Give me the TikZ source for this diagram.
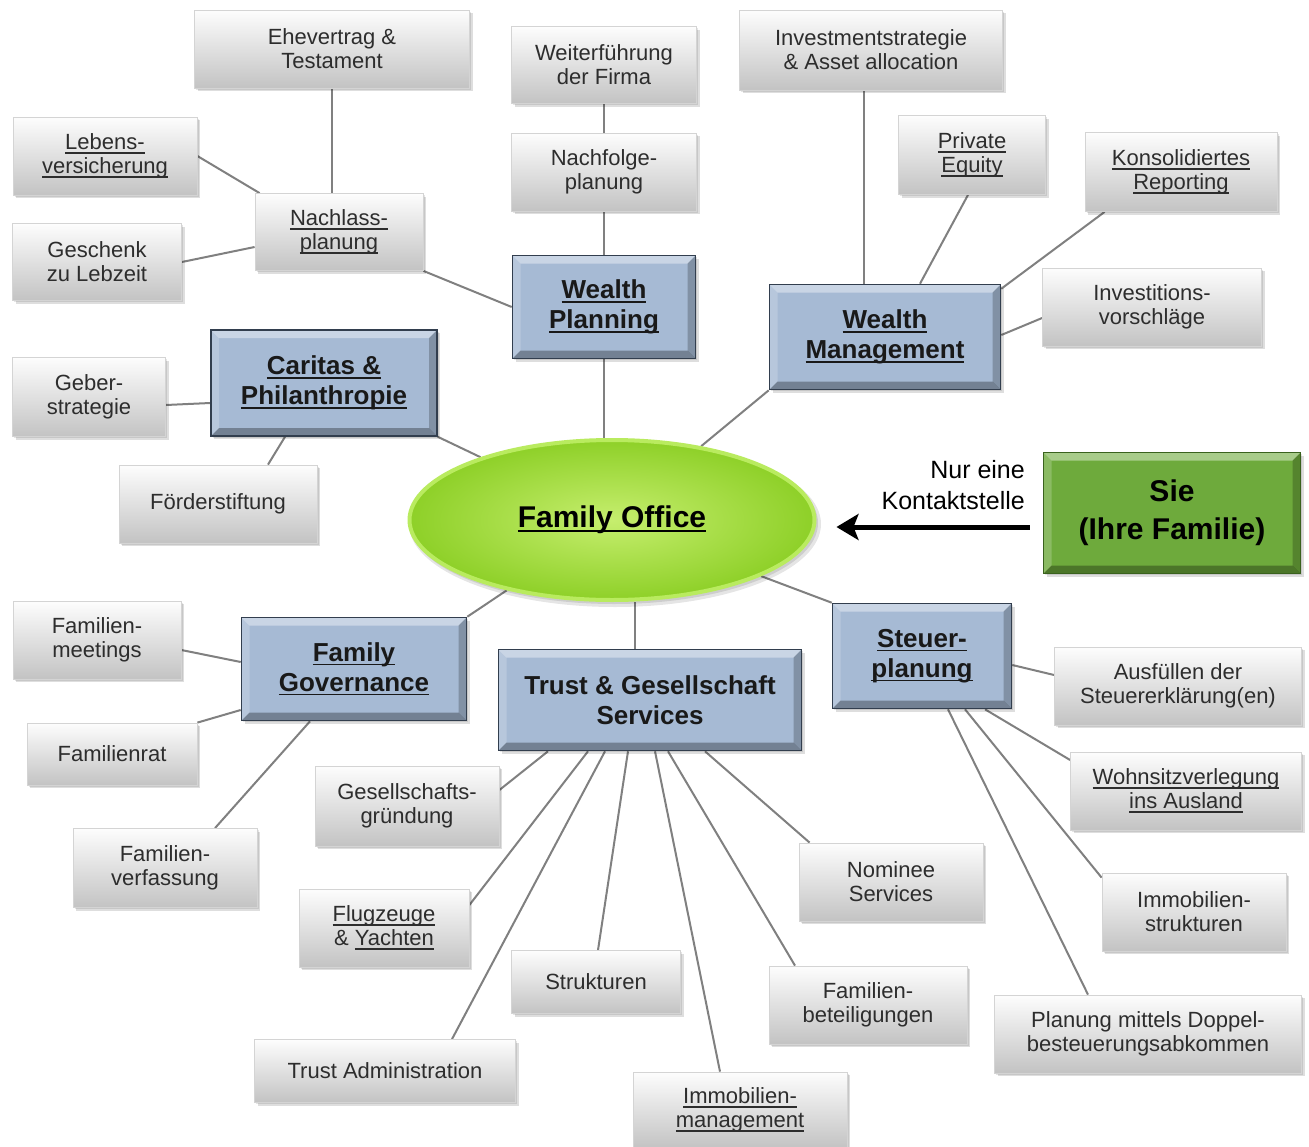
\documentclass[tikz,border=0pt]{standalone}
\usepackage{fontspec}
\setmainfont{Liberation Sans}
\usetikzlibrary{shapes.geometric,shadows,calc,arrows.meta}
\pgfdeclarelayer{paper}
\pgfdeclarelayer{background}
\pgfsetlayers{paper,background,main}
\definecolor{txtgray}{RGB}{45,45,45}
\definecolor{boxtop}{RGB}{253,253,253}
\definecolor{boxbot}{RGB}{195,195,195}
\definecolor{boxline}{RGB}{212,212,212}
\definecolor{bluefill}{RGB}{166,186,212}
\definecolor{blueline}{RGB}{50,62,78}
\definecolor{greenfill}{RGB}{110,170,60}
\definecolor{greenline}{RGB}{58,98,30}
\definecolor{linkgray}{RGB}{128,128,128}
\definecolor{foinner}{RGB}{198,238,110}
\definecolor{foouter}{RGB}{142,208,40}
\definecolor{forim}{RGB}{185,235,95}
\newcommand\uln[1]{\leavevmode\setbox0\hbox{#1}\rlap{\rule[-4pt]{\wd0}{1.6pt}}\box0}
\newcommand\bevelpic{%
  \fill[white,opacity=.4] (path picture bounding box.north west) -- (path picture bounding box.north east)
     -- ([xshift=-8pt,yshift=-8pt]path picture bounding box.north east) -- ([xshift=8pt,yshift=-8pt]path picture bounding box.north west) -- cycle;
  \fill[white,opacity=.2] (path picture bounding box.north west) -- ([xshift=8pt,yshift=-8pt]path picture bounding box.north west)
     -- ([xshift=8pt,yshift=8pt]path picture bounding box.south west) -- (path picture bounding box.south west) -- cycle;
  \fill[black,opacity=.3] (path picture bounding box.south west) -- ([xshift=8pt,yshift=8pt]path picture bounding box.south west)
     -- ([xshift=-8pt,yshift=8pt]path picture bounding box.south east) -- (path picture bounding box.south east) -- cycle;
  \fill[black,opacity=.22] (path picture bounding box.north east) -- ([xshift=-8pt,yshift=-8pt]path picture bounding box.north east)
     -- ([xshift=-8pt,yshift=8pt]path picture bounding box.south east) -- (path picture bounding box.south east) -- cycle;}
\tikzset{
  softshadow/.style={general shadow={fill=black, opacity=.13, shadow xshift=3pt, shadow yshift=-3pt},
                     general shadow={fill=black, opacity=.10, shadow xshift=1.5pt, shadow yshift=-1.5pt}},
  graybox/.style={rectangle, draw=boxline, line width=0.8pt, top color=boxtop, bottom color=boxbot,
    text=txtgray, align=center, inner sep=2pt, font=\fontsize{22}{24}\selectfont, softshadow},
  bluebox/.style={rectangle, draw=blueline, line width=1.6pt, fill=bluefill, path picture={\bevelpic},
    text=black!90, align=center, inner sep=2pt, font=\bfseries\fontsize{26}{30}\selectfont, softshadow},
  greenbox/.style={rectangle, draw=greenline, line width=1.6pt, fill=greenfill, path picture={\bevelpic},
    text=black, align=center, inner sep=2pt, font=\bfseries\fontsize{30}{38}\selectfont, softshadow},
  link/.style={draw=linkgray, line width=2pt},
}
\begin{document}
\begin{tikzpicture}[x=1pt,y=-1pt]
\begin{pgfonlayer}{paper}
\fill[white] (0,0) rectangle (1309,1146);
\end{pgfonlayer}
\useasboundingbox (0,0) rectangle (1309,1146);

% centre
\fill[black, opacity=.10] (615,524) ellipse [x radius=206, y radius=83];
\fill[black, opacity=.10] (614,523) ellipse [x radius=204, y radius=81];
\node[ellipse, minimum width=405, minimum height=160, inner sep=0, draw=forim, line width=4pt,
  inner color=foinner, outer color=foouter, font=\bfseries\fontsize{30}{34}\selectfont]
  (fo) at (612,520) {\uln{Family Office}};
\node[greenbox, minimum width=257, minimum height=121] (sie) at (1172,513) {Sie\\(Ihre Familie)};
\node[anchor=east, align=right, font=\fontsize{25}{31}\selectfont, text=black, inner sep=0] (kontakt) at (1025,485) {Nur eine\\Kontaktstelle};

% main topics
\node[bluebox, minimum width=183, minimum height=103] (wp) at (604,307) {\uln{Wealth}\\\uln{Planning}};
\node[bluebox, minimum width=231, minimum height=105] (wm) at (885,337) {\uln{Wealth}\\\uln{Management}};
\node[bluebox, minimum width=226, minimum height=106] (car) at (324,383) {\uln{Caritas \&}\\\uln{Philanthropie}};
\node[bluebox, minimum width=225, minimum height=103] (fg) at (354,669) {\uln{Family}\\\uln{Governance}};
\node[bluebox, minimum width=303, minimum height=101] (tr) at (650,700) {Trust \& Gesellschaft\\Services};
\node[bluebox, minimum width=179, minimum height=105] (st) at (922,656) {\uln{Steuer-}\\\uln{planung}};

% leaves
\node[graybox, minimum width=275, minimum height=78] (ehe) at (332,49) {Ehevertrag \&\\Testament};
\node[graybox, minimum width=184, minimum height=78] (leb) at (105,156) {\uln{Lebens-}\\\uln{versicherung}};
\node[graybox, minimum width=169, minimum height=77] (ges) at (97,262) {Geschenk\\zu Lebzeit};
\node[graybox, minimum width=168, minimum height=77] (nach) at (339,232) {\uln{Nachlass-}\\\uln{planung}};
\node[graybox, minimum width=185, minimum height=77] (weit) at (604,65) {Weiterführung\\der Firma};
\node[graybox, minimum width=185, minimum height=78] (nachf) at (604,172) {Nachfolge-\\planung};
\node[graybox, minimum width=263, minimum height=80] (inv) at (871,50) {Investmentstrategie\\\& Asset allocation};
\node[graybox, minimum width=147, minimum height=79] (pe) at (972,155) {\uln{Private}\\\uln{Equity}};
\node[graybox, minimum width=192, minimum height=79] (kons) at (1181,172) {\uln{Konsolidiertes}\\\uln{Reporting}};
\node[graybox, minimum width=219, minimum height=78] (invv) at (1152,307) {Investitions-\\vorschläge};
\node[graybox, minimum width=153, minimum height=79] (geb) at (89,397) {Geber-\\strategie};
\node[graybox, minimum width=198, minimum height=78] (foe) at (218,504) {Förderstiftung};
\node[graybox, minimum width=168, minimum height=78] (fmeet) at (97,640) {Familien-\\meetings};
\node[graybox, minimum width=170, minimum height=62] (frat) at (112,754) {Familienrat};
\node[graybox, minimum width=184, minimum height=79] (fverf) at (165,868) {Familien-\\verfassung};
\node[graybox, minimum width=184, minimum height=80] (gesg) at (407,806) {Gesellschafts-\\gründung};
\node[graybox, minimum width=170, minimum height=78] (flug) at (384,928) {\uln{Flugzeuge}\\\& \uln{Yachten}};
\node[graybox, minimum width=169, minimum height=63] (struk) at (596,982) {Strukturen};
\node[graybox, minimum width=261, minimum height=63] (tadm) at (385,1071) {Trust Administration};
\node[graybox, minimum width=214, minimum height=76] (immm) at (740,1110) {\uln{Immobilien-}\\\uln{management}};
\node[graybox, minimum width=198, minimum height=78] (fbet) at (868,1005) {Familien-\\beteiligungen};
\node[graybox, minimum width=184, minimum height=78] (nom) at (891,882) {Nominee\\Services};
\node[graybox, minimum width=247, minimum height=78] (ausf) at (1178,686) {Ausfüllen der\\Steuererklärung(en)};
\node[graybox, minimum width=231, minimum height=78] (wohn) at (1186,791) {\uln{Wohnsitzverlegung}\\\uln{ins Ausland}};
\node[graybox, minimum width=184, minimum height=78] (imms) at (1194,912) {Immobilien-\\strukturen};
\node[graybox, minimum width=307, minimum height=78] (plan) at (1148,1034) {Planung mittels Doppel-\\besteuerungsabkommen};

% arrow
\draw[line width=5pt, black, -{Stealth[length=22pt,width=26pt,inset=5pt]}, shorten <=13pt, shorten >=20pt]
  ([yshift=-14pt]sie.west) -- ([yshift=-7pt]fo.east);

\begin{pgfonlayer}{background}
% wealth planning
\draw[link] (ehe.south) -- (ehe.south |- nach.north);
\draw[link] (leb.east) -- ($(nach.north west)+(5,0)$);
\draw[link] (ges.east) -- ($(nach.west)+(0,15)$);
\draw[link] (nach.south east) -- (wp.west);
\draw[link] (weit.south) -- (nachf.north);
\draw[link] (nachf.south) -- (wp.north);
\draw[link] (wp.south) -- (wp.south |- fo.north);
% wealth management
\draw[link] ($(inv.south)+(-7,0)$) -- ($(wm.north)+(-21,0)$);
\draw[link] ($(pe.south)+(-4,0)$) -- ($(wm.north)+(35,0)$);
\draw[link] ($(kons.south west)+(20,0)$) -- ($(wm.north east)+(0,5)$);
\draw[link] ($(invv.west)+(0,11)$) -- ($(wm.east)+(0,-2)$);
\draw[link] (wm.south west) -- (fo);
% caritas
\draw[link] (car.south east) -- (fo);
\draw[link] ($(geb.east)+(0,8)$) -- ($(car.west)+(0,20)$);
\draw[link] ($(foe.north)+(50,0)$) -- ($(car.south)+(-39,0)$);
% family governance
\draw[link] (fo) -- (fg.north east);
\draw[link] ($(fmeet.east)+(0,10)$) -- ($(fg.west)+(0,-7)$);
\draw[link] (frat.north east) -- ($(fg.west)+(0,41)$);
\draw[link] ($(fverf.north)+(50,0)$) -- ($(fg.south)+(-44,0)$);
% trust
\draw[link] ($(tr.north)+(-15,0)$) -- ($(fo.south)+(23,0)$);
\draw[link] ($(tr.south)+(-102,0)$) -- ($(gesg.east)+(0,-16)$);
\draw[link] ($(tr.south)+(-62,0)$) -- ($(flug.east)+(0,-23)$);
\draw[link] ($(tr.south)+(-45,0)$) -- ($(tadm.north)+(67,0)$);
\draw[link] ($(tr.south)+(-22,0)$) -- ($(struk.north)+(2,0)$);
\draw[link] ($(tr.south)+(5,0)$) -- ($(immm.north)+(-20,0)$);
\draw[link] ($(tr.south)+(18,0)$) -- ($(fbet.north)+(-73,0)$);
\draw[link] ($(tr.south)+(55,0)$) -- ($(nom.north west)+(11,0)$);
% steuer
\draw[link] (fo) -- (st.north west);
\draw[link] ($(st.east)+(0,9)$) -- ($(ausf.west)+(0,-11)$);
\draw[link] ($(st.south)+(63,0)$) -- ($(wohn.west)+(0,-31)$);
\draw[link] ($(st.south)+(43,0)$) -- ($(imms.north west)+(0,5)$);
\draw[link] ($(st.south)+(26,0)$) -- ($(plan.north)+(-60,0)$);
\end{pgfonlayer}
\end{tikzpicture}
\end{document}
